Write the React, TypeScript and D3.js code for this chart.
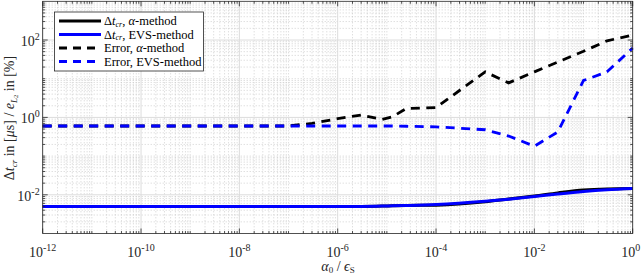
import React from "react";
import * as d3 from "d3";

const alpha = [1e-12, 1e-11, 1e-10, 1e-9, 1e-8, 1e-7, 3e-7, 1e-6, 3e-6, 8e-6, 1.3e-5, 2.5e-5, 1e-4, 1e-3, 3e-3, 1e-2, 3e-2, 1e-1, 3e-1, 1];
const dtAlpha = [0.005, 0.005, 0.005, 0.005, 0.005, 0.005, 0.005, 0.005, 0.005, 0.0051, 0.0052, 0.0053, 0.0054, 0.0066, 0.0078, 0.0093, 0.0112, 0.0133, 0.0142, 0.0145];
const dtEvs = [0.005, 0.005, 0.005, 0.005, 0.005, 0.005, 0.005, 0.005, 0.005, 0.0051, 0.0052, 0.0053, 0.0056, 0.0068, 0.0077, 0.009, 0.0105, 0.0122, 0.0135, 0.0145];
const errAlpha = [0.6, 0.6, 0.6, 0.6, 0.6, 0.6, 0.7, 0.93, 1.15, 0.89, 1.04, 1.7, 1.8, 15, 7.8, 15, 27, 51, 95, 135];
const errEvs = [0.6, 0.6, 0.6, 0.6, 0.6, 0.6, 0.6, 0.6, 0.6, 0.6, 0.6, 0.59, 0.57, 0.48, 0.33, 0.18, 0.42, 9, 15, 62];

const xMajorExps = [-12, -10, -8, -6, -4, -2, 0];
const yMajorExps = [-2, 0, 2];
const legendLabels = ["α-method", "EVS-method", "α-method", "EVS-method"];

const W = 643, H = 274;
const L = 42.7, R = 632.7, T = 1.3, B = 233.5;
const FONT = "'Liberation Serif', 'DejaVu Serif', serif";

export default function App() {
  const x = d3.scaleLog().domain([1e-12, 1]).range([L, R]);
  const y = d3.scaleLog().domain([1e-3, 1e3]).range([B, T]);

  const xMinor: number[] = [];
  for (let k = -12; k < 0; k++) {
    for (let m = 1; m <= 9; m++) {
      if (m === 1 && k % 2 === 0) continue;
      xMinor.push(m * Math.pow(10, k));
    }
  }
  const yMinor: number[] = [];
  for (let k = -3; k < 3; k++) {
    for (let m = 1; m <= 9; m++) {
      if (m === 1 && (k % 2 === 0 || k === -3)) continue;
      yMinor.push(m * Math.pow(10, k));
    }
  }

  const mk = (vals: number[], smooth: boolean) =>
    d3
      .line<number>()
      .x((_, i) => x(alpha[i]))
      .y((v) => y(v))
      .curve(smooth ? d3.curveMonotoneX : d3.curveLinear)(vals) || "";

  const axisColor = "#262626";
  const dash = "9,6.5";

  const series = [
    { vals: dtAlpha, color: "#000000", dashed: false, smooth: true },
    { vals: dtEvs, color: "#0000ff", dashed: false, smooth: true },
    { vals: errAlpha, color: "#000000", dashed: true, smooth: false },
    { vals: errEvs, color: "#0000ff", dashed: true, smooth: false },
  ];

  const legX = 54.5, legY = 12, legW = 149, legH = 59;
  const rowY = [21, 34.5, 48, 61.5];

  return (
    <svg width={W} height={H} style={{ position: "absolute", left: 0, top: 0, background: "#fff" }} fontFamily={FONT}>
      <rect x={0} y={0} width={W} height={H} fill="#fff" />
      {/* minor grid */}
      <g stroke="#bfbfbf" strokeWidth={0.7} strokeDasharray="1,2">
        {xMinor.map((v, i) => (
          <line key={"xm" + i} x1={x(v)} x2={x(v)} y1={T} y2={B} />
        ))}
        {yMinor.map((v, i) => (
          <line key={"ym" + i} x1={L} x2={R} y1={y(v)} y2={y(v)} />
        ))}
      </g>
      {/* major grid */}
      <g stroke="#dcdcdc" strokeWidth={1}>
        {xMajorExps.map((e) => (
          <line key={"xg" + e} x1={x(Math.pow(10, e))} x2={x(Math.pow(10, e))} y1={T} y2={B} />
        ))}
        {yMajorExps.map((e) => (
          <line key={"yg" + e} x1={L} x2={R} y1={y(Math.pow(10, e))} y2={y(Math.pow(10, e))} />
        ))}
      </g>
      {/* series */}
      {series.map((s, i) => (
        <path
          key={"s" + i}
          d={mk(s.vals, s.smooth)}
          fill="none"
          stroke={s.color}
          strokeWidth={s.dashed ? 2.8 : 3}
          strokeDasharray={s.dashed ? dash : undefined}
        />
      ))}
      {/* axes box & ticks */}
      <g stroke={axisColor} strokeWidth={0.8} fill="none">
        <rect x={L} y={T} width={R - L} height={B - T} />
        {xMajorExps.map((e) => {
          const p = x(Math.pow(10, e));
          return (
            <g key={"xt" + e}>
              <line x1={p} x2={p} y1={B} y2={B - 5} />
              <line x1={p} x2={p} y1={T} y2={T + 5} />
            </g>
          );
        })}
        {xMinor.map((v, i) => (
          <g key={"xmt" + i}>
            <line x1={x(v)} x2={x(v)} y1={B} y2={B - 2.5} />
            <line x1={x(v)} x2={x(v)} y1={T} y2={T + 2.5} />
          </g>
        ))}
        {yMajorExps.map((e) => {
          const p = y(Math.pow(10, e));
          return (
            <g key={"yt" + e}>
              <line x1={L} x2={L + 5} y1={p} y2={p} />
              <line x1={R} x2={R - 5} y1={p} y2={p} />
            </g>
          );
        })}
        {yMinor.map((v, i) => (
          <g key={"ymt" + i}>
            <line x1={L} x2={L + 2.5} y1={y(v)} y2={y(v)} />
            <line x1={R} x2={R - 2.5} y1={y(v)} y2={y(v)} />
          </g>
        ))}
      </g>
      {/* x tick labels */}
      <g fill="#262626" fontSize={14} textAnchor="middle">
        {xMajorExps.map((e) => (
          <text key={"xl" + e} x={x(Math.pow(10, e)) + (e === 0 ? -2 : 0)} y={257}>
            <tspan>10</tspan>
            <tspan dy={-6} fontSize={10}>{e}</tspan>
          </text>
        ))}
      </g>
      {/* y tick labels */}
      <g fill="#262626" fontSize={14} textAnchor="end">
        {yMajorExps.map((e) => (
          <text key={"yl" + e} x={L - 3} y={y(Math.pow(10, e)) + 6}>
            <tspan>10</tspan>
            <tspan dy={-6} fontSize={10}>{e}</tspan>
          </text>
        ))}
      </g>
      {/* x label */}
      <text x={338} y={271} fontSize={14} textAnchor="middle" fill="#262626">
        <tspan fontStyle="italic">α</tspan>
        <tspan dy={2} fontSize={9}>0</tspan>
        <tspan dy={-2}> / </tspan>
        <tspan fontStyle="italic">ϵ</tspan>
        <tspan dy={2} fontSize={9}>S</tspan>
      </text>
      {/* y label */}
      <text transform="translate(14,118) rotate(-90)" fontSize={14} textAnchor="middle" fill="#262626">
        <tspan>Δ</tspan>
        <tspan fontStyle="italic">t</tspan>
        <tspan dy={2.5} fontSize={9} fontStyle="italic">cr</tspan>
        <tspan dy={-2.5}> in [</tspan>
        <tspan fontStyle="italic">μ</tspan>
        <tspan>s] / </tspan>
        <tspan fontStyle="italic">e</tspan>
        <tspan dy={2.5} fontSize={9} fontStyle="italic">L</tspan>
        <tspan dy={1.5} fontSize={6.5}>2</tspan>
        <tspan dy={-4}> in [%]</tspan>
      </text>
      {/* legend */}
      <rect x={legX} y={legY} width={legW} height={legH} fill="#fff" stroke="#262626" strokeWidth={0.8} />
      {series.map((s, i) => (
        <g key={"lg" + i}>
          <line
            x1={59}
            x2={101}
            y1={rowY[i]}
            y2={rowY[i]}
            stroke={s.color}
            strokeWidth={s.dashed ? 2.8 : 3}
            strokeDasharray={s.dashed ? "8,6" : undefined}
          />
          <text x={104} y={rowY[i] + 4} fontSize={12.5} fill="#000">
            {s.dashed ? (
              <tspan>Error, </tspan>
            ) : (
              <>
                <tspan>Δ</tspan>
                <tspan fontStyle="italic">t</tspan>
                <tspan dy={1.5} fontSize={8} fontStyle="italic">cr</tspan>
                <tspan dy={-1.5}>, </tspan>
              </>
            )}
            {legendLabels[i].startsWith("α") ? (
              <>
                <tspan fontStyle="italic">α</tspan>
                <tspan>{legendLabels[i].slice(1)}</tspan>
              </>
            ) : (
              <tspan>{legendLabels[i]}</tspan>
            )}
          </text>
        </g>
      ))}
    </svg>
  );
}
